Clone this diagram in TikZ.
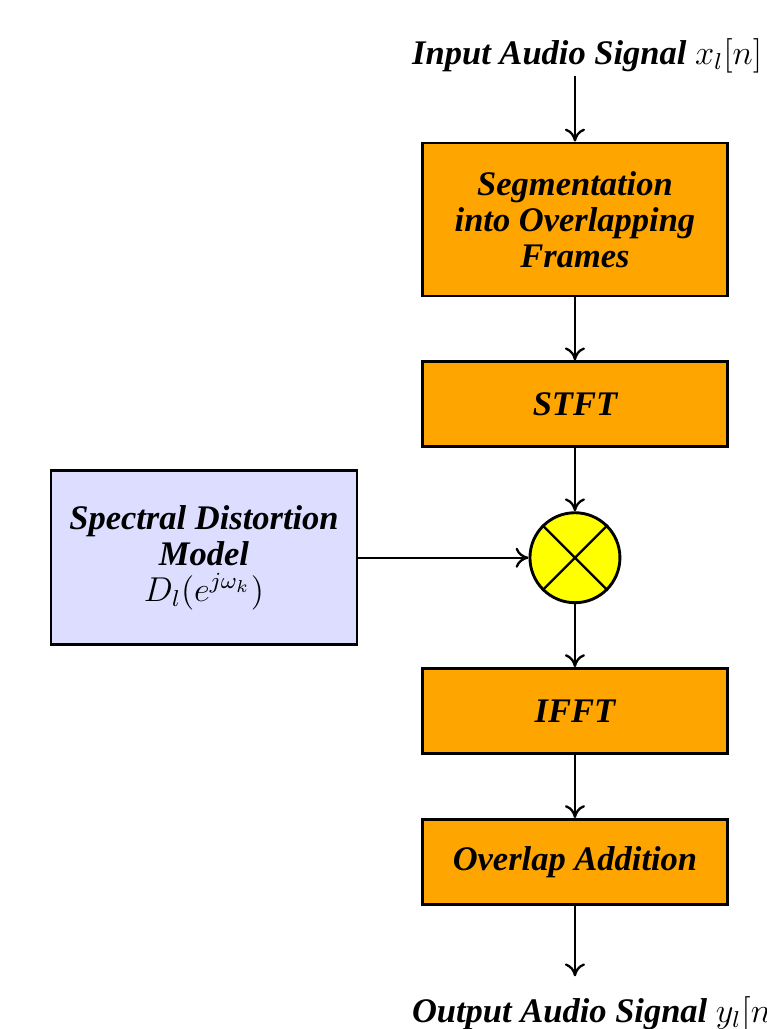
\documentclass[tikz,border=0pt]{standalone}
\usepackage{fontspec}
\setmainfont{Liberation Serif}
\usepackage{tikz}
\usetikzlibrary{arrows.meta, positioning}
\definecolor{stagefill}{HTML}{FFA500}
\definecolor{modelfill}{HTML}{DDDDFF}
\definecolor{mixfill}{HTML}{FFFF00}
\tikzset{
  stage/.style={
    rectangle,
    minimum width=3.72cm, minimum height=1.04cm,
    align=center, draw=black, line width=1pt,
    fill=stagefill, font=\fontsize{12}{12.5}\selectfont\bfseries\itshape,
  },
  model/.style={
    rectangle,
    minimum width=3.74cm, minimum height=2.13cm,
    align=center, draw=black, line width=1pt,
    fill=modelfill, font=\fontsize{12}{12.5}\selectfont\bfseries\itshape,
  },
  mixer/.style={
    circle, minimum size=1.1cm, inner sep=0pt,
    draw=black, line width=1pt, fill=mixfill,
  },
  signal/.style={inner sep=1pt, font=\fontsize{12}{12.5}\selectfont\bfseries\itshape},
  arrow/.style={-{To[length=4.5pt,width=7pt]}, thick, color=black},
}
\begin{document}
\begin{tikzpicture}[node distance=0.77cm]
  \useasboundingbox (0,0) rectangle (9.377,-12.58);
  \node[stage,minimum height=1.87cm] (seg) at (7.029,-2.683) {Segmentation\\into Overlapping\\Frames};
  \node[stage,below=of seg] (stft) {STFT};
  \node[mixer,below=of stft] (mult) {};
  \node[stage,below=of mult] (ifft) {IFFT};
  \node[stage,below=of ifft] (ola) {Overlap Addition};
  \node[model,left=2.08cm of mult] (dist) {Spectral Distortion\\Model\\$D_l(e^{j\omega_k})$};
  \coordinate[above=0.8cm of seg] (in);
  \coordinate[below=0.86cm of ola] (out);
  \node[signal,above=0pt of in,xshift=0.15cm] (xin) {Input Audio Signal $x_l[n]$};
  \node[signal,below=0.2cm of out,xshift=0.26cm] (yout) {Output Audio Signal $y_l[n]$};
  \draw[thick] (mult.north east)--(mult.south west) (mult.north west)--(mult.south east);
  \draw[arrow] (in)--(seg);
  \draw[arrow] (seg)--(stft);
  \draw[arrow] (stft)--(mult);
  \draw[arrow] (dist)--(mult);
  \draw[arrow] (mult)--(ifft);
  \draw[arrow] (ifft)--(ola);
  \draw[arrow] (ola)--(out);
\end{tikzpicture}
\end{document}
